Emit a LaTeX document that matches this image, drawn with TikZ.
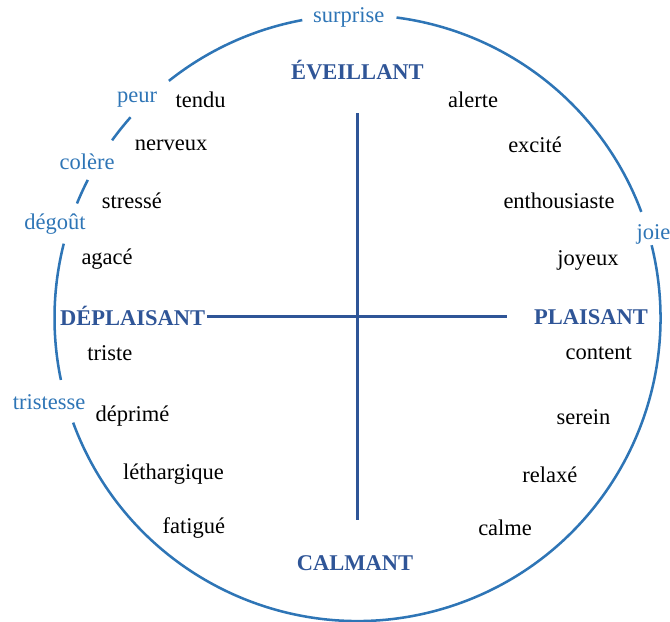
\documentclass[tikz,border=0pt]{standalone}
\usepackage{fontspec}
\setmainfont{Liberation Serif}
\usepackage{tikz}
\usetikzlibrary{positioning}

\definecolor{bleu}{HTML}{2E75B6}
\definecolor{marine}{HTML}{2F5597}

\begin{document}
\begin{tikzpicture}[every node/.style={font=\fontsize{16}{19}\selectfont, inner sep=1pt},
    emotion/.style={text=bleu},
    axe/.style={text=marine, font=\fontsize{16}{19}\selectfont\bfseries},
    cercle/.style={draw=bleu, line width=1.8pt},
    croix/.style={draw=marine, line width=1.8pt}]
          \useasboundingbox (-8.9375,-7.575) rectangle (7.8125,7.95);

          % Axes
          \node[axe](eveil) at (0,6.2) {ÉVEILLANT};
          \node[axe](calm) at (-0.06,-6.125) {CALMANT};
          \node[axe](deplai) at (-5.62,0.04) {DÉPLAISANT};
          \node[axe](plai) at (5.84,0.03) {PLAISANT};

          % Emotions
          \node[emotion](surprise) at (-0.22,7.525) {surprise};
          \node[emotion](peur) at (-5.51,5.45) {peur};
          \node[emotion](colere) at (-6.76,3.9) {colère};
          \node[emotion](degout) at (-7.56,2.35) {dégoût};
          \node[emotion](tristesse) at (-7.71,-2.1) {tristesse};
          \node[emotion](joie) at (7.4,2.1) {joie};

          % Etats
          \node(tendu) at (-3.92,5.45) {tendu};
          \node(nerveux) at (-4.66,4.32) {nerveux};
          \node(stresse) at (-5.64,2.92) {stressé};
          \node(agace) at (-6.26,1.47) {agacé};
          \node(triste) at (-6.19,-0.875) {triste};
          \node(deprime) at (-5.625,-2.45) {déprimé};
          \node(letharg) at (-4.6,-3.9) {léthargique};
          \node(fatigue) at (-4.09,-5.25) {fatigué};
          \node(alerte) at (2.89,5.45) {alerte};
          \node(excite) at (4.44,4.32) {excité};
          \node(enthou) at (5.04,2.92) {enthousiaste};
          \node(joyeux) at (5.76,1.45) {joyeux};
          \node(content) at (6.03,-0.875) {content};
          \node(serein) at (5.65,-2.475) {serein};
          \node(relaxe) at (4.81,-3.925) {relaxé};
          \node(calme) at (3.69,-5.25) {calme};

          % Croix
          \coordinate(haut) at (0,5.125);
          \coordinate(bas) at (0,-5.05);
          \coordinate(droite) at (3.73,0);
          \draw[croix] (haut) -- (bas);
          \draw[croix] (deplai.east) -- (deplai.east -| droite);

          % Cercle
          \draw[cercle] (20.5:7.575) arc[start angle=20.5, end angle=82.6, radius=7.575];
          \draw[cercle] (100.5:7.575) arc[start angle=100.5, end angle=128.5, radius=7.575];
          \draw[cercle] (138.5:7.575) arc[start angle=138.5, end angle=144.1, radius=7.575];
          \draw[cercle] (152.9:7.575) arc[start angle=152.9, end angle=157.8, radius=7.575];
          \draw[cercle] (165.8:7.575) arc[start angle=165.8, end angle=191.8, radius=7.575];
          \draw[cercle] (200.2:7.575) arc[start angle=200.2, end angle=373.9, radius=7.575];
        \end{tikzpicture}
\end{document}
